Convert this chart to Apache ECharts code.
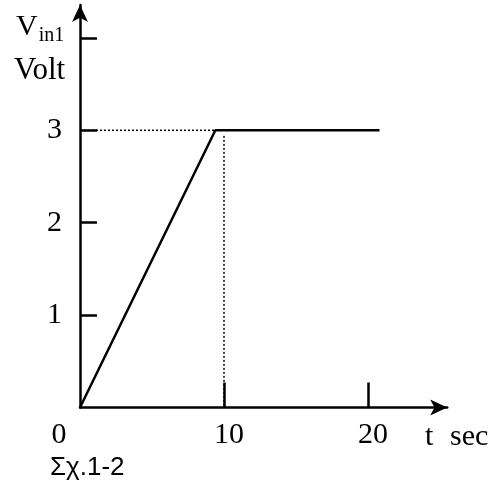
<!DOCTYPE html>
<html>
<head>
<meta charset="utf-8">
<script src="https://cdn.jsdelivr.net/npm/echarts@6/dist/echarts.min.js"></script>
<style>
  html, body { margin: 0; padding: 0; background: #fff; }
  #chart { width: 492px; height: 485px; }
</style>
</head>
<body>
<div id="chart"></div>
<script>
// ramp input: rises to 3 V, then holds
const rampT = [0, 9.4, 20.8];
const rampV = [0, 3, 3];
// dotted guide lines
const guideH = [[0, 3], [9.4, 3]];
const guideV = [[10, 2.94], [10, 0]];
const xTicks = [10, 20];
const xLabels = [0, 10, 20];
const yTicks = [1, 2, 3, 4];
const yLabels = [1, 2, 3];

const serif = 'Liberation Serif';
const c = echarts.init(document.getElementById('chart'));

c.setOption({
  animation: false,
  grid: { left: 80, right: 44.8, top: 5, bottom: 77.5 },
  xAxis: {
    type: 'value', min: 0, max: 25.5,
    splitLine: { show: false },
    axisLine: { lineStyle: { color: '#000', width: 2.5 }, symbol: ['none', 'arrow'], symbolSize: [12, 17] },
    axisTick: { customValues: xTicks, inside: true, length: 25, lineStyle: { color: '#000', width: 2.5 } },
    axisLabel: {
      customValues: xLabels, margin: 13, color: '#000', fontFamily: serif, fontSize: 30,
      formatter: v => v === 0 ? '{z|0}' : '{n|' + v + '}',
      rich: {
        z: { fontFamily: serif, fontSize: 30, color: '#000', padding: [0, 42, 0, 0] },
        n: { fontFamily: serif, fontSize: 30, color: '#000', padding: [0, 0, 0, 10] }
      }
    }
  },
  yAxis: {
    type: 'value', min: 0, max: 4.356,
    splitLine: { show: false },
    axisLine: { lineStyle: { color: '#000', width: 2.5 }, symbol: ['none', 'arrow'], symbolSize: [12, 17] },
    axisTick: { customValues: yTicks, inside: true, length: 17, lineStyle: { color: '#000', width: 2.5 } },
    axisLabel: {
      customValues: yLabels, margin: 18, color: '#000', fontFamily: serif, fontSize: 30,
      padding: [10, 0, 0, 0]
    }
  },
  series: [
    {
      type: 'line', data: rampT.map((t, i) => [t, rampV[i]]), symbol: 'none',
      lineStyle: { color: '#000', width: 2.5 }
    },
    {
      type: 'line', data: guideH, symbol: 'none',
      lineStyle: { color: '#000', width: 1.5, type: [2, 2] }
    },
    {
      type: 'line', data: guideV, symbol: 'none',
      lineStyle: { color: '#000', width: 1.5, type: [2, 2] }
    }
  ],
  graphic: [
    {
      type: 'text', left: 16, top: 12,
      style: {
        text: '{v|V}{s|in1}',
        rich: {
          v: { fontFamily: serif, fontSize: 30, fill: '#000' },
          s: { fontFamily: serif, fontSize: 20, fill: '#000', padding: [18, 0, 0, 1] }
        }
      }
    },
    { type: 'text', left: 14, top: 55, style: { text: 'Volt', fontFamily: serif, fontSize: 31, fill: '#000' } },
    { type: 'text', left: 425, top: 422, style: { text: 't', fontFamily: serif, fontSize: 30, fill: '#000' } },
    { type: 'text', left: 450, top: 422, style: { text: 'sec', fontFamily: serif, fontSize: 30, fill: '#000' } },
    { type: 'text', left: 50, top: 455, style: { text: 'Σχ.1-2', fontFamily: 'Liberation Sans', fontSize: 26, fill: '#000' } }
  ]
});
</script>
</body>
</html>
